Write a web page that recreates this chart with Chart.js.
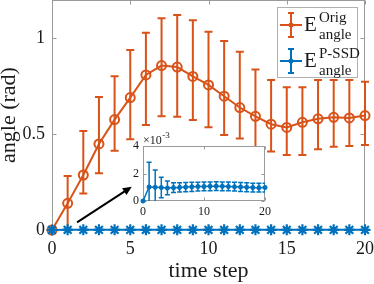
<!DOCTYPE html>
<html><head><meta charset="utf-8">
<script src="https://cdn.jsdelivr.net/npm/chart.js@4"></script>
<style>
html,body{margin:0;padding:0;background:#fff;}
#wrap{position:relative;width:374px;height:284px;overflow:hidden;background:#fff;}
#main{position:absolute;left:0;top:0;}
#inset{position:absolute;left:113px;top:128px;}
</style></head><body>
<div id="wrap"><canvas id="main" width="374" height="284"></canvas><canvas id="inset" width="160" height="96"></canvas></div>
<script>
const steps = [0,1,2,3,4,5,6,7,8,9,10,11,12,13,14,15,16,17,18,19,20];
const origMean  = [0,0.139,0.287,0.449,0.576,0.691,0.809,0.858,0.850,0.801,0.757,0.698,0.639,0.593,0.552,0.535,0.562,0.580,0.588,0.585,0.597];
const origUpper = [0,0.282,0.517,0.694,0.802,0.939,1.029,1.105,1.122,1.094,1.035,0.986,0.930,0.838,0.783,0.745,0.745,0.783,0.783,0.783,0.774];
const origLower = [0,0.000,0.191,0.296,0.414,0.473,0.548,0.593,0.591,0.574,0.536,0.496,0.478,0.420,0.410,0.391,0.391,0.421,0.435,0.438,0.443];
// P-SSD values in units of 10^-3 rad
const pssdMean = [0,1.02,1.00,0.98,0.95,0.97,0.99,1.01,1.03,1.05,1.06,1.07,1.08,1.07,1.06,1.04,1.02,1.00,0.98,0.97,0.98];
const pssdErr  = [0,1.80,1.25,0.74,0.50,0.36,0.34,0.33,0.33,0.32,0.32,0.32,0.32,0.32,0.32,0.32,0.32,0.32,0.32,0.32,0.32];
const xTicks = [0,5,10,15,20];
const yTicks = [0,0.5,1];
const insetXTicks = [0,10,20];
const insetYTicks = [0,2,4];
const arrowFrom = [1.6, 0.04];
const arrowTo = [5.1, 0.226];

const ORANGE = '#D95319', BLUE = '#0072BD';
const FONT = "'Liberation Serif','Times New Roman',serif";
const TXT = '#1a1a1a', AXC = '#9a9a9a';

function drawErr(ctx, xs, ys, lower, upper, color, lw, cap){
  ctx.save(); ctx.strokeStyle = color; ctx.lineWidth = lw; ctx.lineCap='butt';
  for (let i=0;i<steps.length;i++){
    const px = xs.getPixelForValue(steps[i]);
    const p1 = ys.getPixelForValue(lower[i]), p2 = ys.getPixelForValue(upper[i]);
    ctx.beginPath();
    ctx.moveTo(px,p1); ctx.lineTo(px,p2);
    ctx.moveTo(px-cap,p1); ctx.lineTo(px+cap,p1);
    ctx.moveTo(px-cap,p2); ctx.lineTo(px+cap,p2);
    ctx.stroke();
  }
  ctx.restore();
}
function drawBox(ctx, a, xs, ys, xt, yt, tl){
  ctx.save(); ctx.strokeStyle = AXC; ctx.lineWidth = 1;
  const L=Math.round(a.left)+0.5, R=Math.round(a.right)-0.5, T=Math.round(a.top)+0.5, B=Math.round(a.bottom)-0.5;
  ctx.strokeRect(L,T,R-L,B-T);
  ctx.beginPath();
  xt.forEach(v=>{const p=Math.round(xs.getPixelForValue(v))+0.5; ctx.moveTo(p,B); ctx.lineTo(p,B-tl); ctx.moveTo(p,T); ctx.lineTo(p,T+tl);});
  yt.forEach(v=>{const p=Math.round(ys.getPixelForValue(v))+0.5; ctx.moveTo(L,p); ctx.lineTo(L+tl,p); ctx.moveTo(R,p); ctx.lineTo(R-tl,p);});
  ctx.stroke(); ctx.restore();
}
function legendEntry(ctx, color, cy, sup, sub){
  ctx.save();
  ctx.strokeStyle=color; ctx.fillStyle=color; ctx.lineWidth=2;
  ctx.beginPath(); ctx.moveTo(280,cy); ctx.lineTo(302,cy);
  ctx.moveTo(291,cy-12); ctx.lineTo(291,cy+12);
  ctx.moveTo(288,cy-12); ctx.lineTo(294,cy-12);
  ctx.moveTo(288,cy+12); ctx.lineTo(294,cy+12);
  ctx.stroke();
  ctx.beginPath(); ctx.arc(291,cy,2.5,0,Math.PI*2); ctx.fill();
  ctx.fillStyle=TXT; ctx.textBaseline='alphabetic'; ctx.textAlign='left';
  ctx.font = '21px '+FONT; ctx.fillText('E',304,cy+6);
  ctx.font = '15px '+FONT; ctx.fillText(sup,319,cy-3); ctx.fillText(sub,319,cy+14);
  ctx.restore();
}

const mainDeco = {
  id:'mainDeco',
  beforeDatasetsDraw(chart){
    const {ctx, chartArea:a, scales:{x,y}} = chart;
    drawBox(ctx,a,x,y,xTicks,yTicks,4);
    drawErr(ctx,x,y,origLower,origUpper,ORANGE,2,4);
    drawErr(ctx,x,y,pssdMean.map((m,i)=>(m-pssdErr[i])*1e-3),pssdMean.map((m,i)=>(m+pssdErr[i])*1e-3),BLUE,2,4);
  },
  afterDraw(chart){
    const {ctx, scales:{x,y}} = chart;
    const x1=x.getPixelForValue(arrowFrom[0]), y1=y.getPixelForValue(arrowFrom[1]);
    const x2=x.getPixelForValue(arrowTo[0]), y2=y.getPixelForValue(arrowTo[1]);
    const ang=Math.atan2(y2-y1,x2-x1), hl=9, hw=4;
    ctx.save(); ctx.strokeStyle='#000'; ctx.fillStyle='#000'; ctx.lineWidth=2;
    ctx.beginPath(); ctx.moveTo(x1,y1); ctx.lineTo(x2-Math.cos(ang)*hl*0.8,y2-Math.sin(ang)*hl*0.8); ctx.stroke();
    ctx.beginPath(); ctx.moveTo(x2,y2);
    ctx.lineTo(x2-Math.cos(ang)*hl+Math.sin(ang)*hw, y2-Math.sin(ang)*hl-Math.cos(ang)*hw);
    ctx.lineTo(x2-Math.cos(ang)*hl-Math.sin(ang)*hw, y2-Math.sin(ang)*hl+Math.cos(ang)*hw);
    ctx.closePath(); ctx.fill(); ctx.restore();
    ctx.save(); ctx.fillStyle='#fff'; ctx.fillRect(277,7,80,70);
    ctx.strokeStyle='#b0b0b0'; ctx.lineWidth=1; ctx.strokeRect(277.5,7.5,80,70); ctx.restore();
    legendEntry(ctx, ORANGE, 25, 'Orig', 'angle');
    legendEntry(ctx, BLUE, 61, 'P-SSD', 'angle');
  }
};

new Chart(document.getElementById('main'), {
  type:'line',
  data:{datasets:[
    {label:'E_angle^Orig', data:steps.map((s,i)=>({x:s,y:origMean[i]})), borderColor:ORANGE, borderWidth:2,
     pointStyle:'circle', pointRadius:4.5, pointBorderWidth:2, pointBackgroundColor:'rgba(0,0,0,0)', pointBorderColor:ORANGE, clip:false, order:2},
    {label:'E_angle^P-SSD', data:steps.map((s,i)=>({x:s,y:pssdMean[i]*1e-3})), borderColor:BLUE, borderWidth:2,
     pointStyle:'star', pointRadius:5.5, pointBorderWidth:2.2, pointBorderColor:BLUE, pointBackgroundColor:BLUE, clip:false, order:1}
  ]},
  options:{
    responsive:false, animation:false, devicePixelRatio:1,
    layout:{autoPadding:false, padding:{left:0,right:9,top:0,bottom:0}},
    plugins:{legend:{display:false}, tooltip:{enabled:false}},
    scales:{
      x:{type:'linear', min:0, max:20,
        afterBuildTicks:s=>{s.ticks=xTicks.map(v=>({value:v}));},
        grid:{display:false, drawTicks:false}, border:{display:false},
        ticks:{font:{family:FONT,size:18}, color:TXT, padding:8, maxRotation:0, autoSkip:false},
        title:{display:true, text:'time step', font:{family:FONT,size:22}, color:TXT, padding:{top:0,bottom:0}},
        afterFit:s=>{s.height=54; s.paddingLeft=0; s.paddingRight=0;}},
      y:{type:'linear', min:0, max:1.2,
        afterBuildTicks:s=>{s.ticks=yTicks.map(v=>({value:v}));},
        grid:{display:false, drawTicks:false}, border:{display:false},
        ticks:{font:{family:FONT,size:18}, color:TXT, padding:7, callback:v=>String(v)},
        title:{display:true, text:'angle (rad)', font:{family:FONT,size:22}, color:TXT, padding:{top:-4,bottom:0}},
        afterFit:s=>{s.width=52; s.paddingTop=0; s.paddingBottom=0;}}
    }
  },
  plugins:[mainDeco]
});

const insetDeco = {
  id:'insetDeco',
  beforeDraw(chart){
    const {ctx, chartArea:a} = chart;
    ctx.save(); ctx.fillStyle='#fff'; ctx.fillRect(a.left,a.top,a.right-a.left,a.bottom-a.top); ctx.restore();
  },
  beforeDatasetsDraw(chart){
    const {ctx, chartArea:a, scales:{x,y}} = chart;
    drawBox(ctx,a,x,y,insetXTicks,insetYTicks,3);
    ctx.save(); ctx.beginPath(); ctx.rect(a.left,a.top,a.right-a.left,a.bottom-a.top); ctx.clip();
    drawErr(ctx,x,y,pssdMean.map((m,i)=>m-pssdErr[i]),pssdMean.map((m,i)=>m+pssdErr[i]),BLUE,1.5,2.5);
    ctx.restore();
  },
  afterDraw(chart){
    const {ctx, chartArea:a} = chart;
    ctx.save(); ctx.fillStyle=TXT; ctx.textBaseline='alphabetic'; ctx.textAlign='left';
    ctx.font='12px '+FONT; ctx.fillText('\u00d710',a.left,a.top-2);
    const w=ctx.measureText('\u00d710').width;
    ctx.font='9px '+FONT; ctx.fillText('-3',a.left+w+0.5,a.top-8);
    ctx.restore();
  }
};

new Chart(document.getElementById('inset'), {
  type:'line',
  data:{datasets:[
    {label:'E_angle^P-SSD', data:steps.map((s,i)=>({x:s,y:pssdMean[i]})), borderColor:BLUE, borderWidth:1.5,
     pointStyle:'star', pointRadius:2.5, pointBorderWidth:1.5, pointBorderColor:BLUE, pointBackgroundColor:BLUE, clip:false}
  ]},
  options:{
    responsive:false, animation:false, devicePixelRatio:1,
    layout:{autoPadding:false, padding:{left:0,right:8,top:18,bottom:0}},
    plugins:{legend:{display:false}, tooltip:{enabled:false}},
    scales:{
      x:{type:'linear', min:0, max:20,
        afterBuildTicks:s=>{s.ticks=insetXTicks.map(v=>({value:v}));},
        grid:{display:false, drawTicks:false}, border:{display:false},
        ticks:{font:{family:FONT,size:12}, color:TXT, padding:4, maxRotation:0, autoSkip:false},
        afterFit:s=>{s.height=23; s.paddingLeft=0; s.paddingRight=0;}},
      y:{type:'linear', min:0, max:4,
        afterBuildTicks:s=>{s.ticks=insetYTicks.map(v=>({value:v}));},
        grid:{display:false, drawTicks:false}, border:{display:false},
        ticks:{font:{family:FONT,size:12}, color:TXT, padding:4},
        afterFit:s=>{s.width=30; s.paddingTop=0; s.paddingBottom=0;}}
    }
  },
  plugins:[insetDeco]
});
</script>
</body></html>
